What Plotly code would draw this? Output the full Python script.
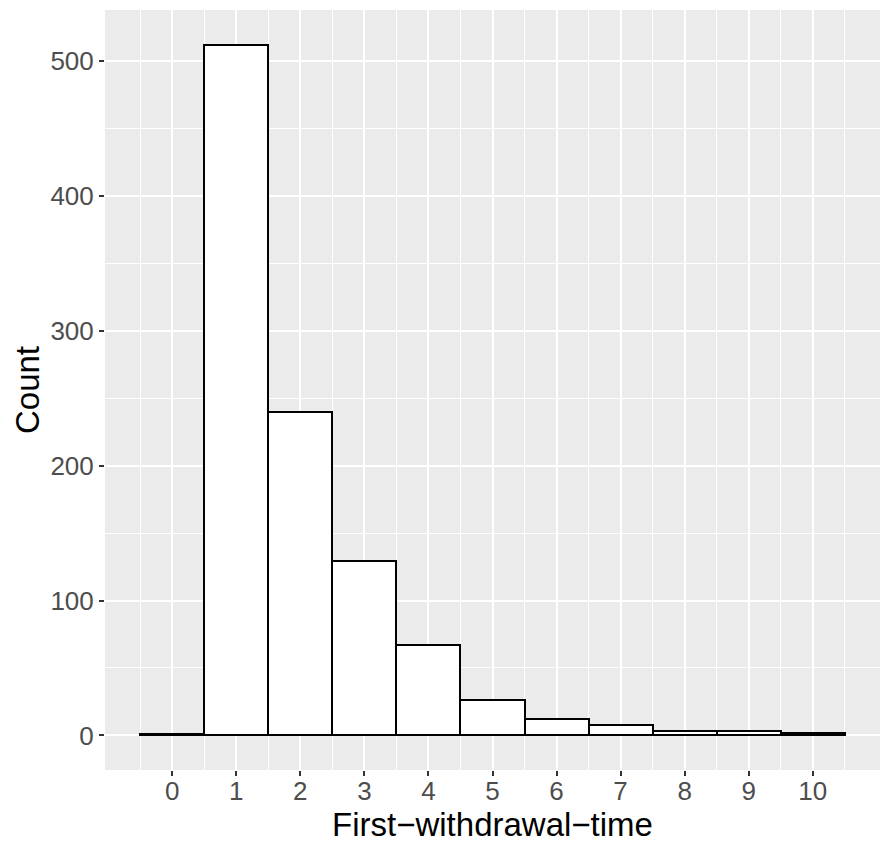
import plotly.graph_objects as go

times = [0, 1, 2, 3, 4, 5, 6, 7, 8, 9, 10]
counts = [1, 512, 240, 129, 67, 26, 12, 8, 3, 3, 2]
x_ticks = [0, 1, 2, 3, 4, 5, 6, 7, 8, 9, 10]
y_ticks = [0, 100, 200, 300, 400, 500]

fig = go.Figure()
fig.add_trace(go.Bar(
    x=times, y=counts, width=1,
    marker=dict(color="white", line=dict(color="black", width=2)),
    showlegend=False,
))

font_family = "Liberation Sans, Arial, sans-serif"
fig.update_layout(
    width=892, height=848,
    margin=dict(l=105, r=12, t=10, b=78),
    paper_bgcolor="white",
    plot_bgcolor="#EBEBEB",
    bargap=0,
    font=dict(family=font_family),
)
fig.update_xaxes(
    range=[-1.05, 11.05],
    tickvals=x_ticks, ticktext=[str(v) for v in x_ticks],
    showgrid=True, gridcolor="white", gridwidth=2,
    minor=dict(tickvals=[v - 0.5 for v in x_ticks] + [10.5], showgrid=True,
               gridcolor="white", gridwidth=1, ticklen=0),
    ticks="outside", ticklen=5, tickwidth=1.5, tickcolor="#333333",
    tickfont=dict(size=26, color="#4D4D4D"),
    ticklabelstandoff=-7,
    zeroline=False, showline=False,
    title=dict(text="First\u2212withdrawal\u2212time", font=dict(size=33, color="black"), standoff=0),
)
fig.update_yaxes(
    range=[-25.6, 537.6],
    tickvals=y_ticks, ticktext=[str(v) for v in y_ticks],
    showgrid=True, gridcolor="white", gridwidth=2,
    minor=dict(tickvals=[50, 150, 250, 350, 450], showgrid=True,
               gridcolor="white", gridwidth=1, ticklen=0),
    ticks="outside", ticklen=5, tickwidth=1.5, tickcolor="#333333",
    tickfont=dict(size=26, color="#4D4D4D"),
    zeroline=False, showline=False,
    title=dict(text="Count", font=dict(size=33, color="black"), standoff=0),
)

fig.write_html("out.html")
